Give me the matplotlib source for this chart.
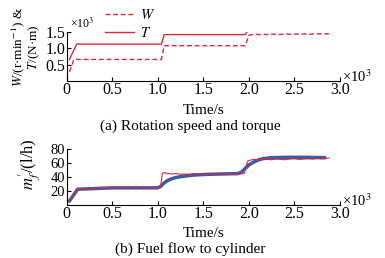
import matplotlib
matplotlib.use("Agg")
import matplotlib.pyplot as plt

plt.rcParams['font.family'] = ['Liberation Serif', 'DejaVu Serif']
plt.rcParams['mathtext.fontset'] = 'stix'
plt.rcParams['font.size'] = 11

# (a) rotation speed W and torque T, x10^3
time_w = [0.03, 0.08, 1.04, 1.07, 1.96, 2.00, 2.04, 2.08, 2.12, 2.16, 2.20, 2.24, 2.28, 2.32,
          2.36, 2.40, 2.44, 2.48, 2.52, 2.56, 2.60, 2.64, 2.68, 2.72, 2.76, 2.80, 2.84, 2.88]
speed_w = [0.28, 0.66, 0.66, 1.08, 1.08, 1.40, 1.42, 1.43, 1.42, 1.43, 1.42, 1.43, 1.43, 1.42,
           1.43, 1.44, 1.43, 1.43, 1.44, 1.43, 1.44, 1.44, 1.43, 1.45, 1.44, 1.45, 1.44, 1.45]
time_t = [0.03, 0.11, 1.04, 1.07, 1.96, 2.00, 2.04, 2.08, 2.12, 2.16, 2.20, 2.24, 2.28, 2.32,
          2.36, 2.40, 2.44, 2.48, 2.52, 2.56, 2.60, 2.64, 2.68, 2.72, 2.76, 2.80, 2.84, 2.88]
torque_t = [0.66, 1.13, 1.13, 1.42, 1.42, 1.60, 1.61, 1.62, 1.61, 1.62, 1.62, 1.61, 1.62, 1.62,
            1.63, 1.62, 1.62, 1.63, 1.62, 1.63, 1.63, 1.62, 1.63, 1.64, 1.63, 1.64, 1.65, 1.66]

# (b) fuel flow to cylinder, l/h
time_m = [0.03, 0.06, 0.09, 0.12, 0.16, 0.20, 0.25, 0.30, 0.35, 0.40, 0.45, 0.50, 0.55, 0.60,
          0.65, 0.70, 0.75, 0.80, 0.85, 0.90, 0.95, 1.00, 1.03, 1.05, 1.07, 1.10, 1.15, 1.20,
          1.25, 1.30, 1.35, 1.40, 1.45, 1.50, 1.55, 1.60, 1.65, 1.70, 1.75, 1.80, 1.85, 1.90,
          1.95, 1.97, 1.99, 2.02, 2.05, 2.10, 2.15, 2.20, 2.25, 2.30, 2.35, 2.40, 2.45, 2.50,
          2.55, 2.60, 2.65, 2.70, 2.75, 2.80, 2.85, 2.88]
fuel_m = [4, 11, 17, 22, 23, 22.5, 23.5, 23, 24, 23.5, 24.5, 24, 23.5, 24.5,
          24, 23.5, 24.5, 24, 23, 24, 23.5, 24, 25, 45, 46, 45, 44, 44.5,
          43.5, 44, 43.5, 44.5, 43.5, 44, 44.5, 43.5, 44, 44.5, 43.5, 44, 43.5, 44,
          45, 56, 63, 64, 65, 64.5, 65.5, 65, 64.5, 65.5, 65, 64.5, 65.5, 66,
          65, 65.5, 66, 65.5, 66.5, 66, 66.5, 67]
time_s = [0.03, 0.12, 0.5, 1.0, 1.03, 1.06, 1.10, 1.15, 1.20, 1.30, 1.40, 1.55, 1.70, 1.88,
          1.92, 1.96, 2.00, 2.05, 2.10, 2.15, 2.25, 2.40, 2.60, 2.83]
fuel_s = [5, 22, 24, 24, 26, 30, 34, 37, 39, 41, 42.5, 43.5, 44, 44.5,
          47, 52, 57, 61, 64, 66, 67.5, 68, 68, 67.5]

x_ticks = [0, 0.5, 1.0, 1.5, 2.0, 2.5, 3.0]
x_labels = ['0', '0.5', '1.0', '1.5', '2.0', '2.5', '3.0']

red = '#d8283c'
blue = '#3c5aa6'

W, H = 385, 258
fig = plt.figure(figsize=(W / 100, H / 100), dpi=100)

def style(ax):
    ax.spines['top'].set_visible(False)
    ax.spines['right'].set_visible(False)
    ax.tick_params(direction='in', length=3, width=0.8, pad=1, labelsize=11.5)
    ax.set_xlim(0, 3.0)
    ax.set_xticks(x_ticks)
    ax.set_xticklabels(x_labels)
    ax.set_xlabel('Time/s', labelpad=4)

ax1 = fig.add_axes([66.7 / W, 1 - 81 / H, (340 - 66.7) / W, 49 / H])
style(ax1)
ax1.plot(time_w, speed_w, color=red, lw=1.0, dashes=(3.5, 2), label='$W$')
ax1.plot(time_t, torque_t, color=red, lw=1.0, label='$T$')
ax1.set_ylim(0, 1.5)
ax1.set_yticks([0.5, 1.0, 1.5])
ax1.set_ylabel('$W$/(r·min$^{-1}$) &\n$T$/(N·m)', fontsize=9.5, linespacing=1.0)
ax1.yaxis.set_label_coords(-0.09, 0.69)
ax1.legend(loc='upper left', bbox_to_anchor=(105 / W, 1 - 8 / H), bbox_transform=fig.transFigure,
           frameon=False, fontsize=10.5, borderpad=0, borderaxespad=0, handlelength=2.0,
           handletextpad=0.4, labelspacing=0.3)

ax2 = fig.add_axes([66.7 / W, 1 - 204.5 / H, (340 - 66.7) / W, 55.5 / H])
style(ax2)
ax2.tick_params(axis='y', labelsize=10.5)
ax2.plot(time_s, fuel_s, color=blue, lw=2.5)
ax2.plot(time_m, fuel_m, color=red, lw=0.8)
ax2.set_ylim(0, 80)
ax2.set_yticks([20, 40, 60, 80])
ax2.set_ylabel("$m^{\\prime}_{f}$/(l/h)", fontsize=12)
ax2.yaxis.set_label_coords(-0.085, 0.72)

fig.text(70 / W, 1 - 24 / H, '×10$^3$', ha='left', va='center', fontsize=8.5)
fig.text(342 / W, 1 - 77 / H, '×10$^3$', ha='left', va='center', fontsize=10.5)
fig.text(342 / W, 1 - 201 / H, '×10$^3$', ha='left', va='center', fontsize=10.5)
fig.text(190 / W, 1 - 126 / H, '(a) Rotation speed and torque', ha='center', va='center')
fig.text(190 / W, 1 - 249 / H, '(b) Fuel flow to cylinder', ha='center', va='center')

fig.savefig('out.png', dpi=100)
